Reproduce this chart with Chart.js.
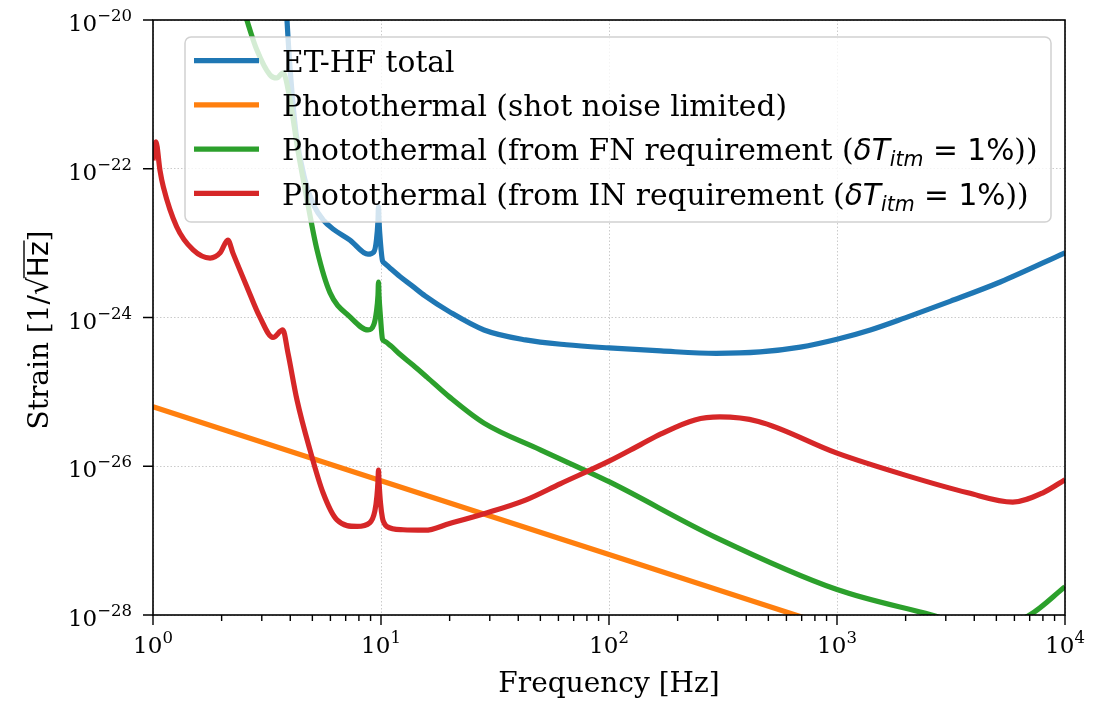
<!DOCTYPE html>
<html>
<head>
<meta charset="utf-8">
<script src="https://cdn.jsdelivr.net/npm/chart.js@4.4.1/dist/chart.umd.min.js"></script>
<style>
  html, body { margin: 0; padding: 0; background: #fff; }
  #chart { display: block; }
</style>
</head>
<body>
<canvas id="chart" width="1094" height="701"></canvas>
<script>
// ET-HF total noise
const totalFreq = [3.8, 3.87, 3.99, 4.24, 4.64, 5.08, 5.62, 6.16, 7.31, 8.77, 9.3, 9.55, 9.7, 9.75, 9.8, 9.95, 10.15, 10.35, 11, 12.1, 13.7, 15.6, 20, 28.3, 43, 65, 100, 169, 295, 460, 690, 1000, 1400, 1990, 3150, 5200, 10000];
const totalStrain = [3e-20, 1e-20, 2.3e-21, 3.0e-22, 7.1e-23, 3.2e-23, 2.0e-23, 1.55e-23, 1.1e-23, 7.1e-24, 7.6e-24, 1.1e-23, 2.0e-23, 3.1e-23, 2.0e-23, 1.0e-23, 5.8e-24, 5.4e-24, 4.57e-24, 3.56e-24, 2.66e-24, 1.95e-24, 1.19e-24, 6.8e-25, 5.0e-25, 4.3e-25, 3.9e-25, 3.55e-25, 3.3e-25, 3.45e-25, 4.0e-25, 5.1e-25, 6.8e-25, 9.9e-25, 1.66e-24, 3.0e-24, 7.4e-24];

// photothermal, shot noise limited
const shotFreq = [1, 10, 100, 1000, 10000];
const shotStrain = [6.3e-26, 6.4e-27, 6.5e-28, 6.6e-29, 6.7e-30];

// photothermal from the FN requirement
const fnFreq = [2.45, 2.58, 2.85, 3.26, 3.49, 3.72, 3.99, 4.32, 4.74, 5.24, 5.98, 7.31, 8.77, 9.3, 9.55, 9.7, 9.75, 9.8, 9.95, 10.15, 10.35, 11, 12.1, 13.8, 15.9, 20, 28.3, 50, 100, 295, 1000, 2600, 4500, 7000, 10000];
const fnStrain = [1.7e-20, 1e-20, 4.0e-21, 1.82e-21, 1.66e-21, 1.95e-21, 8.4e-22, 1.78e-22, 3.8e-23, 8.1e-24, 2.14e-24, 1.02e-24, 6.8e-25, 8.0e-25, 1.2e-24, 2.0e-24, 3.0e-24, 2.0e-24, 1.0e-24, 5.1e-25, 4.8e-25, 4.2e-25, 3.2e-25, 2.3e-25, 1.58e-25, 8.5e-26, 3.8e-26, 1.66e-26, 6.2e-27, 1.1e-27, 2.2e-28, 1.0e-28, 6.3e-29, 1.0e-28, 2.4e-28];

// photothermal from the IN requirement
const inFreq = [1.0, 1.03, 1.073, 1.11, 1.27, 1.5, 1.78, 1.97, 2.13, 2.24, 2.58, 2.94, 3.36, 3.71, 3.91, 4.28, 4.88, 5.57, 6.41, 7.85, 8.93, 9.4, 9.6, 9.7, 9.75, 9.8, 9.95, 10.15, 10.35, 10.6, 12.5, 15.6, 20, 28.3, 43, 61, 100, 137, 169, 238, 306, 452, 1000, 1990, 3750, 5900, 8000, 10000];
const inStrain = [1.3e-22, 2.3e-22, 9.5e-23, 5.7e-23, 1.66e-23, 8.1e-24, 6.3e-24, 7.4e-24, 1.1e-23, 7.4e-24, 2.6e-24, 1.02e-24, 5.4e-25, 6.8e-25, 3.3e-25, 7.8e-26, 1.66e-26, 4.4e-27, 1.9e-27, 1.55e-27, 1.74e-27, 2.5e-27, 4.0e-27, 6.3e-27, 8.9e-27, 6.3e-27, 3.2e-27, 2.0e-27, 1.7e-27, 1.55e-27, 1.4e-27, 1.38e-27, 1.7e-27, 2.3e-27, 3.5e-27, 5.8e-27, 1.17e-26, 1.94e-26, 2.72e-26, 4.2e-26, 4.6e-26, 4.0e-26, 1.5e-26, 7.6e-27, 4.4e-27, 3.3e-27, 4.4e-27, 6.6e-27];

// axis decades
const xMajor = [1, 10, 100, 1000, 10000];
const yMajor = [1e-28, 1e-26, 1e-24, 1e-22, 1e-20];

const colors = ['#1f77b4', '#ff7f0e', '#2ca02c', '#d62728'];
const labels = [
  'ET-HF total',
  'Photothermal (shot noise limited)',
  'Photothermal (from FN requirement (\u03b4T_itm = 1%))',
  'Photothermal (from IN requirement (\u03b4T_itm = 1%))'
];

const LINE_W = 5.2;
const SERIF = '"DejaVu Serif", serif';
const SANS = '"DejaVu Sans", sans-serif';
const LEG = '29.7px ';

const toPoints = (fs, hs) => fs.map((f, i) => ({x: f, y: hs[i]}));

// legend rows as text runs: [text, font, baseline shift]
const mathRuns = (head) => [
  [head, LEG + SERIF, 0],
  ['\u03b4T', 'italic ' + LEG + SANS, 0],
  ['itm', 'italic 20.5px ' + SANS, 6],
  [' = 1%', LEG + SANS, 0],
  ['))', LEG + SERIF, 0]
];
const legendRuns = [
  [[labels[0], LEG + SERIF, 0]],
  [[labels[1], LEG + SERIF, 0]],
  mathRuns('Photothermal (from FN requirement ('),
  mathRuns('Photothermal (from IN requirement (')
];

function drawRuns(ctx, runs, x, y) {
  for (const [t, f, dy] of runs) {
    ctx.font = f;
    ctx.fillText(t, x, y + dy);
    x += ctx.measureText(t).width;
  }
}

function drawPower(ctx, exp, x, y, align) {
  const base = '10';
  const sup = exp < 0 ? '\u2212' + (-exp) : String(exp);
  ctx.font = '23px ' + SERIF;
  const wb = ctx.measureText(base).width;
  ctx.font = '16.5px ' + SERIF;
  const ws = ctx.measureText(sup).width;
  const x0 = align === 'center' ? x - (wb + ws) / 2 : x - wb - ws;
  ctx.font = '23px ' + SERIF;
  ctx.fillText(base, x0, y);
  ctx.font = '16.5px ' + SERIF;
  ctx.fillText(sup, x0 + wb, y - 10);
}

const decorations = {
  id: 'decorations',
  afterDraw(chart) {
    const ctx = chart.ctx;
    const {left, right, top, bottom} = chart.chartArea;
    const xs = chart.scales.x, ys = chart.scales.y;
    ctx.save();
    ctx.textBaseline = 'alphabetic';
    ctx.textAlign = 'left';

    // legend
    ctx.beginPath();
    ctx.roundRect(185, 37, 866, 185, 6);
    ctx.fillStyle = 'rgba(255,255,255,0.8)';
    ctx.fill();
    ctx.strokeStyle = 'rgba(204,204,204,0.9)';
    ctx.lineWidth = 1.5;
    ctx.stroke();
    legendRuns.forEach((runs, i) => {
      const y = 60.7 + i * 44.2;
      ctx.strokeStyle = colors[i];
      ctx.lineWidth = LINE_W;
      ctx.beginPath();
      ctx.moveTo(194, y);
      ctx.lineTo(259, y);
      ctx.stroke();
      ctx.fillStyle = '#000';
      drawRuns(ctx, runs, 282, y + 11.3);
    });

    // frame
    ctx.strokeStyle = '#000';
    ctx.lineWidth = 1.6;
    ctx.strokeRect(left, top, right - left, bottom - top);

    // ticks
    ctx.lineWidth = 1.4;
    ctx.beginPath();
    xMajor.forEach(v => {
      const px = xs.getPixelForValue(v);
      ctx.moveTo(px, bottom); ctx.lineTo(px, bottom + 10);
      if (v < 10000) {
        for (let m = 2; m <= 9; m++) {
          const mx = xs.getPixelForValue(v * m);
          ctx.moveTo(mx, bottom); ctx.lineTo(mx, bottom + 6);
        }
      }
    });
    yMajor.forEach(v => {
      const py = ys.getPixelForValue(v);
      ctx.moveTo(left, py); ctx.lineTo(left - 10, py);
    });
    ctx.stroke();

    // tick labels
    ctx.fillStyle = '#000';
    xMajor.forEach(v => drawPower(ctx, Math.round(Math.log10(v)), xs.getPixelForValue(v), bottom + 38, 'center'));
    yMajor.forEach(v => drawPower(ctx, Math.round(Math.log10(v)), 132, ys.getPixelForValue(v) + 11, 'right'));

    // axis titles
    ctx.font = '28px ' + SERIF;
    ctx.textAlign = 'center';
    ctx.fillText('Frequency [Hz]', (left + right) / 2, 692);

    ctx.translate(48, 330);
    ctx.rotate(-Math.PI / 2);
    ctx.textAlign = 'left';
    const runs = [['Strain [1/', '28px ' + SERIF], ['\u221a', '28px ' + SANS], ['Hz', '28px ' + SANS], [']', '28px ' + SERIF]];
    let total = 0;
    runs.forEach(([t, f]) => { ctx.font = f; total += ctx.measureText(t).width; });
    let x = -total / 2;
    runs.forEach(([t, f]) => {
      ctx.font = f;
      const w = ctx.measureText(t).width;
      ctx.fillText(t, x, 0);
      if (t === 'Hz') {
        ctx.lineWidth = 1.4;
        ctx.beginPath();
        ctx.moveTo(x - 1, -24);
        ctx.lineTo(x + w + 1, -24);
        ctx.stroke();
      }
      x += w;
    });
    ctx.restore();
  }
};

const series = [
  [totalFreq, totalStrain],
  [shotFreq, shotStrain],
  [fnFreq, fnStrain],
  [inFreq, inStrain]
];

new Chart(document.getElementById('chart'), {
  type: 'line',
  data: {
    datasets: series.map(([f, h], i) => ({
      label: labels[i],
      data: toPoints(f, h),
      borderColor: colors[i],
      backgroundColor: colors[i],
      borderWidth: LINE_W,
      pointRadius: 0,
      fill: false,
      clip: 0,
      order: 3 - i,
      cubicInterpolationMode: 'monotone'
    }))
  },
  options: {
    responsive: false,
    animation: false,
    events: [],
    layout: { padding: { left: 0, top: 20, right: 29, bottom: 0 } },
    plugins: { legend: { display: false }, tooltip: { enabled: false } },
    elements: { line: { borderJoinStyle: 'round' } },
    scales: {
      x: {
        type: 'logarithmic',
        min: 1,
        max: 1e4,
        afterBuildTicks: s => { s.ticks = xMajor.map(v => ({ value: v })); },
        afterFit: s => { s.height = 86; },
        ticks: { display: false },
        grid: { color: 'rgba(190,190,190,0.8)', lineWidth: 1, drawTicks: false },
        border: { display: false, dash: [1.5, 2] }
      },
      y: {
        type: 'logarithmic',
        min: 1e-28,
        max: 1e-20,
        afterBuildTicks: s => { s.ticks = yMajor.map(v => ({ value: v })); },
        afterFit: s => { s.width = 153; },
        ticks: { display: false },
        grid: { color: 'rgba(190,190,190,0.8)', lineWidth: 1, drawTicks: false },
        border: { display: false, dash: [1.5, 2] }
      }
    }
  },
  plugins: [decorations]
});
</script>
</body>
</html>
